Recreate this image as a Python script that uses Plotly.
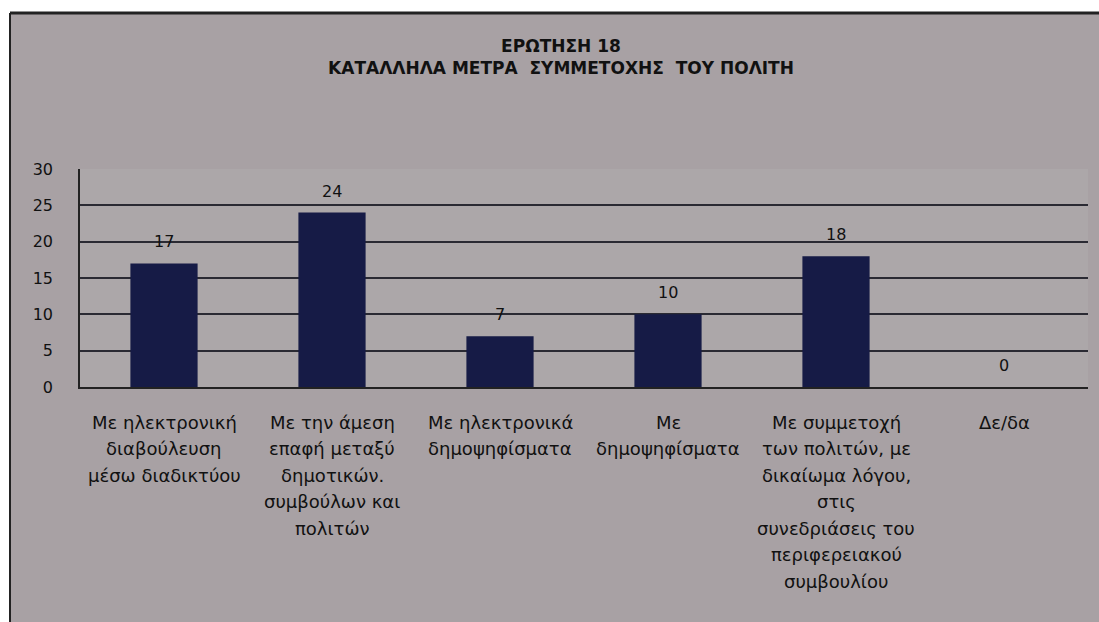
import plotly.graph_objects as go

categories = [
    "Με ηλεκτρονική<br>διαβούλευση<br>μέσω διαδικτύου",
    "Με την άμεση<br>επαφή μεταξύ<br>δημοτικών.<br>συμβούλων και<br>πολιτών",
    "Με ηλεκτρονικά<br>δημοψηφίσματα",
    "Με<br>δημοψηφίσματα",
    "Με συμμετοχή<br>των πολιτών, με<br>δικαίωμα λόγου,<br>στις<br>συνεδριάσεις του<br>περιφερειακού<br>συμβουλίου",
    "Δε/δα",
]
values = [17, 24, 7, 10, 18, 0]
y_ticks = [0, 5, 10, 15, 20, 25, 30]

FONT = "'DejaVu Sans', sans-serif"
TXT = "#111111"
W, H = 1099, 622
ML, MR, MT, MB = 80, 11, 169, 235
PW, PH = W - ML - MR, H - MT - MB
LINE_GAP = 26.5


def px_x(p):
    return (p - ML) / PW


def px_y(p):
    return (H - MB - p) / PH


fig = go.Figure()
fig.add_trace(go.Bar(
    x=categories, y=values, marker=dict(color="#161b46", line=dict(width=0)),
    width=0.4, hoverinfo="skip",
))

for c, v in zip(categories, values):
    fig.add_annotation(x=c, y=v, text=str(v), showarrow=False, yanchor="bottom",
                       yshift=10, font=dict(family=FONT, size=16, color=TXT))

# category labels, one annotation per text line (to reproduce the wide line spacing)
for c in categories:
    for i, line in enumerate(c.split("<br>")):
        fig.add_annotation(x=c, y=0, text=line, showarrow=False, yanchor="middle",
                           xanchor="center", yshift=-35 - LINE_GAP * i,
                           font=dict(family=FONT, size=18, color=TXT))

shapes = [
    dict(type="rect", xref="paper", yref="paper", x0=px_x(-5), x1=px_x(10), y0=px_y(630), y1=px_y(-5),
         fillcolor="white", line=dict(width=0), layer="above"),
    dict(type="rect", xref="paper", yref="paper", x0=px_x(-5), x1=px_x(1105), y0=px_y(13), y1=px_y(-5),
         fillcolor="white", line=dict(width=0), layer="above"),
    dict(type="line", xref="paper", yref="paper", x0=px_x(10), x1=px_x(10), y0=px_y(630), y1=px_y(13),
         line=dict(color="#222", width=2), layer="above"),
    dict(type="line", xref="paper", yref="paper", x0=px_x(10), x1=px_x(1105), y0=px_y(13), y1=px_y(13),
         line=dict(color="#222", width=3), layer="above"),
]

fig.update_layout(
    width=W, height=H,
    margin=dict(l=ML, r=MR, t=MT, b=MB),
    paper_bgcolor="#a8a1a4",
    plot_bgcolor="#aca7a9",
    showlegend=False,
    bargap=0.6,
    title=dict(text="ΕΡΩΤΗΣΗ 18<br>ΚΑΤΑΛΛΗΛΑ ΜΕΤΡΑ  ΣΥΜΜΕΤΟΧΗΣ  ΤΟΥ ΠΟΛΙΤΗ",
               x=561 / W, xanchor="center", y=1 - 52 / H, yanchor="middle",
               font=dict(family=FONT, size=17, color="#111", weight="bold")),
    shapes=shapes,
    xaxis=dict(showgrid=False, showline=True, linecolor="#222", linewidth=1.5,
               showticklabels=False, ticks="", fixedrange=True),
    yaxis=dict(range=[0, 30], tickvals=y_ticks, showgrid=True, gridcolor="#2a2a33", gridwidth=1.5,
               showline=True, linecolor="#222", linewidth=1.5, zeroline=False,
               tickfont=dict(family=FONT, size=16, color=TXT), ticks="",
               ticklabelstandoff=22, fixedrange=True),
)

fig.write_html("out.html", config={"displayModeBar": False},
               post_script="document.body.style.margin='0';")
